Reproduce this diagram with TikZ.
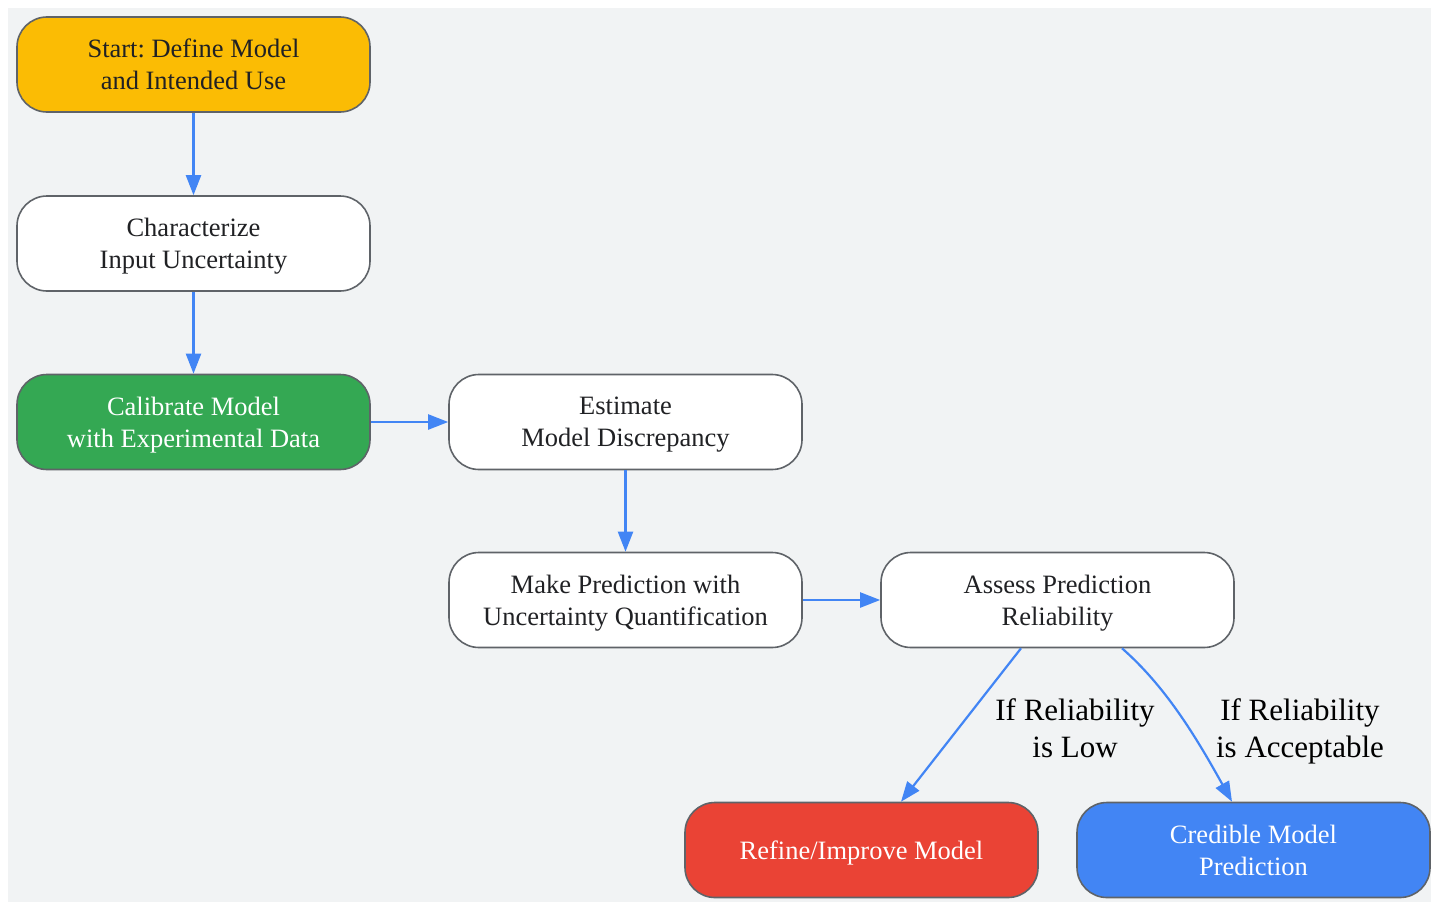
\documentclass[tikz,border=0pt]{standalone}
\usepackage{fontspec}
\setmainfont{Liberation Serif}
\usetikzlibrary{arrows.meta}
\frenchspacing

\definecolor{bgGrey}{HTML}{F1F3F4}
\definecolor{lineGrey}{HTML}{5F6368}
\definecolor{txtDark}{HTML}{202124}
\definecolor{gYellow}{HTML}{FBBC04}
\definecolor{gGreen}{HTML}{34A853}
\definecolor{gRed}{HTML}{EA4335}
\definecolor{gBlue}{HTML}{4285F4}

\tikzset{
  stepbox/.style = {draw = lineGrey, line width = 1.6pt, rounded corners = 30pt,
    minimum width = 353pt, minimum height = 95pt, align = center, fill = white,
    text = txtDark, text depth = 0pt, font = \fontsize{26.5pt}{32pt}\selectfont},
  flow/.style = {draw = gBlue, line width = 2.2pt, -{Triangle[length=20pt, width=15pt]}},
  cond/.style = {align = center, text = black, text depth = 0pt,
    font = \fontsize{31pt}{37pt}\selectfont}
}

\begin{document}
\begin{tikzpicture}[x = 1pt, y = -1pt]
        \useasboundingbox (0,0) rectangle (1431,902);
        \fill[bgGrey] (8,8) rectangle (1431,902);

        % boxes
        \node[stepbox, fill = gYellow] (start) at (193.5,64.5) {Start: Define Model\\and Intended Use};
        \node[stepbox] (charact) at (193.5,243.5) {Characterize\\Input Uncertainty};
        \node[stepbox, fill = gGreen, text = white] (calib) at (193.5,422) {Calibrate Model\\with Experimental Data};
        \node[stepbox] (discrep) at (625.5,422) {Estimate\\Model Discrepancy};
        \node[stepbox] (predict) at (625.5,600) {Make Prediction with\\Uncertainty Quantification};
        \node[stepbox] (assess) at (1057.5,600) {Assess Prediction\\Reliability};
        \node[stepbox, fill = gRed, text = white] (refine) at (861.5,850) {Refine/Improve Model};
        \node[stepbox, fill = gBlue, text = white] (credible) at (1253.5,850) {Credible Model\\Prediction};

        % arrows
        \draw[flow] (start) -- (charact);
        \draw[flow] (charact) -- (calib);
        \draw[flow] (calib) -- (discrep);
        \draw[flow] (discrep) -- (predict);
        \draw[flow] (predict) -- (assess);
        \draw[flow] ([xshift=-36.5pt]assess.south) -- ([xshift=39.5pt]refine.north);
        \draw[flow] ([xshift=64.5pt]assess.south) .. controls (1165,686) and (1195,735) .. ([xshift=-21.5pt]credible.north);

        % conditions
        \node[cond] (lowlbl) at (1075,728) {If Reliability\\is Low};
        \node[cond] (oklbl) at (1300,728) {If Reliability\\is Acceptable};
\end{tikzpicture}
\end{document}
